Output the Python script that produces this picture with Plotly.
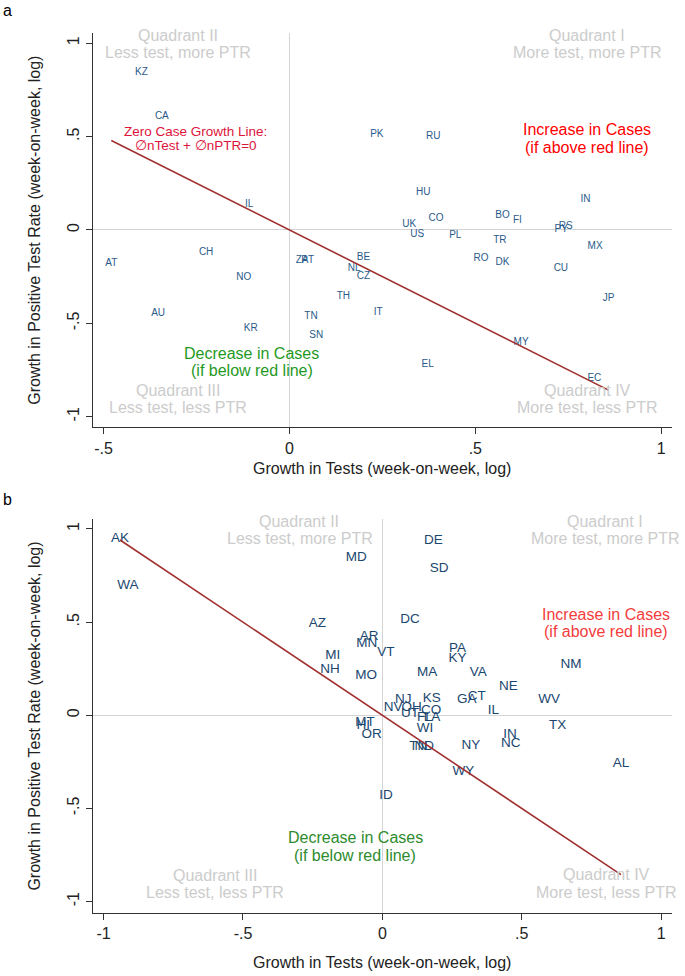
import plotly.graph_objects as go

# ---------------- Panel a: countries ----------------
a_codes = ["KZ", "CA", "IL", "PK", "RU", "HU", "IN", "CO", "BO", "FI", "UK", "RS", "PY",
           "US", "PL", "TR", "MX", "BE", "RO", "DK", "CU", "NL", "CZ", "TH", "JP", "IT",
           "MY", "EL", "EC", "AT", "CH", "NO", "AU", "KR", "ZA", "PT", "TN", "SN"]
a_test = [-0.398, -0.343, -0.108, 0.235, 0.387, 0.360, 0.796, 0.394, 0.573, 0.613, 0.322, 0.743, 0.731,
          0.344, 0.446, 0.566, 0.822, 0.199, 0.515, 0.573, 0.730, 0.174, 0.199, 0.145, 0.858, 0.239,
          0.623, 0.372, 0.820, -0.479, -0.224, -0.123, -0.353, -0.104, 0.034, 0.049, 0.058, 0.072]
a_ptr = [0.843, 0.607, 0.139, 0.509, 0.500, 0.200, 0.161, 0.064, 0.075, 0.050, 0.027, 0.021, 0.004,
         -0.023, -0.027, -0.059, -0.086, -0.146, -0.152, -0.175, -0.205, -0.205, -0.250, -0.357, -0.366, -0.441,
         -0.602, -0.718, -0.798, -0.182, -0.121, -0.254, -0.446, -0.529, -0.164, -0.164, -0.464, -0.566]

# ---------------- Panel b: US states ----------------
b_codes = ["AK", "WA", "AZ", "MI", "NH", "MD", "DE", "SD", "DC", "AR", "MN", "VT", "PA", "KY",
           "VA", "NM", "MO", "MA", "NE", "WV", "KS", "GA", "CT", "IL", "NV", "OH", "NJ", "UT",
           "CO", "FL", "LA", "WI", "MT", "HI", "OR", "TN", "ND", "NY", "IN", "NC", "TX", "AL",
           "WY", "ID"]
b_test = [-0.941, -0.913, -0.233, -0.178, -0.188, -0.094, 0.183, 0.204, 0.099, -0.047, -0.056, 0.013, 0.270, 0.270,
          0.344, 0.677, -0.058, 0.161, 0.452, 0.598, 0.177, 0.303, 0.339, 0.398, 0.039, 0.105, 0.075, 0.099,
          0.175, 0.153, 0.178, 0.153, -0.062, -0.068, -0.038, 0.129, 0.150, 0.318, 0.458, 0.461, 0.629, 0.856,
          0.291, 0.013]
b_ptr = [0.950, 0.696, 0.494, 0.318, 0.243, 0.846, 0.936, 0.789, 0.515, 0.422, 0.386, 0.336, 0.360, 0.302,
         0.229, 0.270, 0.213, 0.229, 0.154, 0.082, 0.091, 0.082, 0.100, 0.025, 0.043, 0.043, 0.082, 0.007,
         0.023, -0.014, -0.014, -0.070, -0.040, -0.057, -0.102, -0.168, -0.168, -0.165, -0.106, -0.150, -0.057, -0.258,
         -0.303, -0.433]

# ---------------- Tick labels ----------------
a_xticks = [-0.5, 0, 0.5, 1]
a_xticktext = ["-.5", "0", ".5", "1"]
b_xticks = [-1, -0.5, 0, 0.5, 1]
b_xticktext = ["-1", "-.5", "0", ".5", "1"]
yticks = [-1, -0.5, 0, 0.5, 1]
yticktext = ["-1", "-.5", "0", ".5", "1"]

x_title = "Growth in Tests (week-on-week, log)"
y_title = "Growth in Positive Test Rate (week-on-week, log)"

FONT = "Liberation Sans, Arial, sans-serif"
LABEL_COLOR = "#1a476f"
LINE_COLOR = "#a0302f"
GRAY = "#cccccc"
W, H = 685, 976

fig = go.Figure()

# labels
fig.add_trace(go.Scatter(x=a_test, y=a_ptr, text=a_codes, mode="text",
                         textposition="middle center",
                         textfont=dict(family=FONT, size=10, color="#2a5a8a"),
                         xaxis="x", yaxis="y", showlegend=False, hoverinfo="text"))
fig.add_trace(go.Scatter(x=b_test, y=b_ptr, text=b_codes, mode="text",
                         textposition="middle center",
                         textfont=dict(family=FONT, size=13.5, color=LABEL_COLOR),
                         xaxis="x2", yaxis="y2", showlegend=False, hoverinfo="text"))

# zero-case growth lines: dlnTest + dlnPTR = 0, over the range of the data
ax0, ax1 = min(a_test), max(a_test)
fig.add_trace(go.Scatter(x=[ax0, ax1], y=[-ax0, -ax1], mode="lines",
                         line=dict(color=LINE_COLOR, width=1.6),
                         xaxis="x", yaxis="y", showlegend=False, hoverinfo="skip"))
bx0, bx1 = min(b_test), max(b_test)
fig.add_trace(go.Scatter(x=[bx0, bx1], y=[-bx0, -bx1], mode="lines",
                         line=dict(color=LINE_COLOR, width=1.6),
                         xaxis="x2", yaxis="y2", showlegend=False, hoverinfo="skip"))

def px(x):
    return x / W

def py(y):
    return 1 - y / H

axis_common = dict(showline=True, linecolor="#333333", linewidth=1.3, mirror=False,
                   ticks="outside", ticklen=6, tickcolor="#333333", tickwidth=1.2,
                   showgrid=False, zeroline=True, zerolinecolor="#d4d4d4", zerolinewidth=1.2,
                   tickfont=dict(family=FONT, size=16, color="#222222"))

fig.update_layout(
    width=W, height=H,
    margin=dict(l=0, r=0, t=0, b=0),
    paper_bgcolor="white", plot_bgcolor="white",
    font=dict(family=FONT, color="#222222"),
    xaxis=dict(domain=[px(92.7), px(671.7)], anchor="y", range=[-0.529, 1.028],
               tickvals=a_xticks, ticktext=a_xticktext,
               title=dict(text=x_title, font=dict(family=FONT, size=16, color="#222222"), standoff=7),
               **axis_common),
    yaxis=dict(domain=[py(427.3), py(33)], anchor="x", range=[-1.057, 1.055],
               tickvals=yticks, ticktext=yticktext, tickangle=-90,
               title=dict(text=y_title, font=dict(family=FONT, size=16, color="#222222"), standoff=20),
               **axis_common),
    xaxis2=dict(domain=[px(92.7), px(671.7)], anchor="y2", range=[-1.039, 1.038],
                tickvals=b_xticks, ticktext=b_xticktext,
                title=dict(text=x_title, font=dict(family=FONT, size=16, color="#222222"), standoff=15),
                **axis_common),
    yaxis2=dict(domain=[py(912.7), py(519.3)], anchor="x2", range=[-1.06, 1.052],
                tickvals=yticks, ticktext=yticktext, tickangle=-90,
                title=dict(text=y_title, font=dict(family=FONT, size=16, color="#222222"), standoff=20),
                **axis_common),
)

ann = []

def text_at(x, y, s, color, size):
    ann.append(dict(x=px(x), y=py(y), xref="paper", yref="paper", text=s, showarrow=False,
                    xanchor="center", yanchor="middle",
                    font=dict(family=FONT, size=size, color=color)))

# Panel a annotations
text_at(178, 35, "Quadrant II", GRAY, 16)
text_at(178, 53, "Less test, more PTR", GRAY, 16)
text_at(587, 35.5, "Quadrant I", GRAY, 16)
text_at(587, 53, "More test, more PTR", GRAY, 16)
text_at(178, 390, "Quadrant III", GRAY, 16)
text_at(178, 407, "Less test, less PTR", GRAY, 16)
text_at(587, 390, "Quadrant IV", GRAY, 16)
text_at(587, 407, "More test, less PTR", GRAY, 16)
text_at(196, 131, "Zero Case Growth Line:", "#dc143c", 13.5)
text_at(196, 145.5, "\u2205nTest + \u2205nPTR=0", "#dc143c", 13.5)
text_at(587, 129.5, "Increase in Cases", "#ff0000", 16)
text_at(587, 147, "(if above red line)", "#ff0000", 16)
text_at(252, 353.5, "Decrease in Cases", "#1f9a1f", 16)
text_at(252, 370.5, "(if below red line)", "#1f9a1f", 16)

# Panel b annotations
text_at(299, 521, "Quadrant II", GRAY, 16)
text_at(300, 538, "Less test, more PTR", GRAY, 16)
text_at(605, 521, "Quadrant I", GRAY, 16)
text_at(605, 538, "More test, more PTR", GRAY, 16)
text_at(215, 875, "Quadrant III", GRAY, 16)
text_at(215, 892.5, "Less test, less PTR", GRAY, 16)
text_at(606, 874.5, "Quadrant IV", GRAY, 16)
text_at(606, 892.5, "More test, less PTR", GRAY, 16)
text_at(606, 614, "Increase in Cases", "#f43c3c", 16)
text_at(606, 631, "(if above red line)", "#f43c3c", 16)
text_at(355, 837.5, "Decrease in Cases", "#2e8b2e", 16)
text_at(355, 855, "(if below red line)", "#2e8b2e", 16)

# panel letters
ann.append(dict(x=px(1), y=1, xref="paper", yref="paper", text="a", showarrow=False,
                xanchor="left", yanchor="top", font=dict(family=FONT, size=16, color="#000000")))
ann.append(dict(x=px(1), y=py(489), xref="paper", yref="paper", text="b", showarrow=False,
                xanchor="left", yanchor="top", font=dict(family=FONT, size=16, color="#000000")))

fig.update_layout(annotations=ann)

fig.write_html("out.html",
               config={"displayModeBar": False},
               post_script="document.body.style.margin='0';document.body.style.padding='0';")
